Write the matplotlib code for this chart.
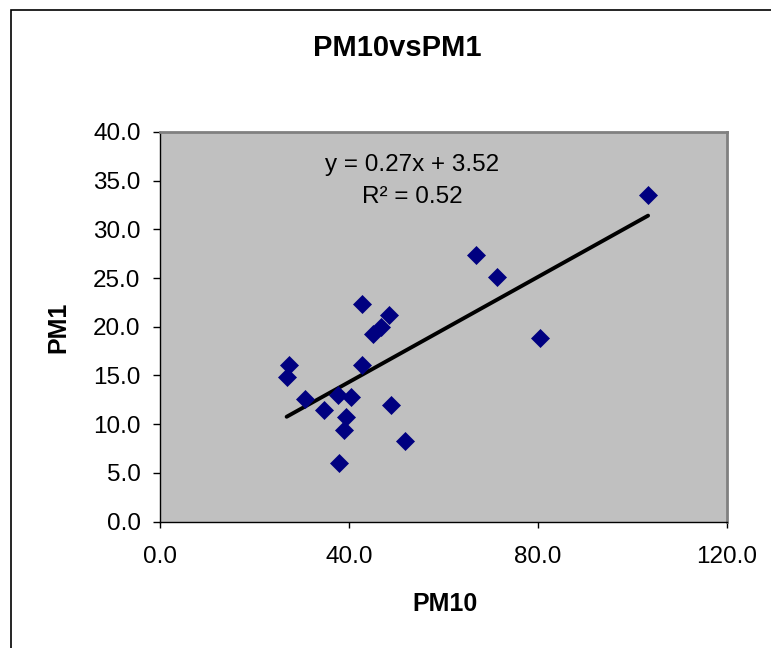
import matplotlib
matplotlib.use('Agg')
import matplotlib.pyplot as plt
from matplotlib.patches import Rectangle

###########                Data                 ###########
#---------------------------------------------------------#
pm10 = [42.8, 48.5, 46.8, 45.1, 27.3, 26.8, 42.8, 30.7, 37.7, 40.4,
        34.8, 39.3, 38.9, 48.9, 51.9, 37.9, 103.3, 66.9, 71.4, 80.4]
pm1 = [22.3, 21.2, 20.0, 19.3, 16.1, 14.8, 16.1, 12.6, 13.0, 12.75,
       11.4, 10.7, 9.4, 12.0, 8.3, 6.0, 33.5, 27.4, 25.1, 18.8]

slope = 0.27
intercept = 3.52
r2 = 0.52

x_ticks = [0, 40, 80, 120]
y_ticks = [0, 5, 10, 15, 20, 25, 30, 35, 40]

W, H = 771, 648
font = 'Liberation Sans'

###########               Figure                ###########
#---------------------------------------------------------#
fig = plt.figure(figsize=(W / 100, H / 100), dpi=100)
# outer chart border (right and bottom edges fall outside the picture)
fig.patches.append(Rectangle((11 / W, -0.2), 2, 1 - 9.5 / H + 0.2,
                             transform=fig.transFigure, fill=False,
                             lw=1.2, ec='black'))

ax = fig.add_axes([160 / W, (H - 521.5) / H, 567 / W, 389.5 / H])
ax.set_facecolor('#c0c0c0')

ax.plot(pm10, pm1, 'D', ms=9.5, color='#000080', mec='#000080', mew=0.5, zorder=3)

# linear trend line over the data range
x0, x1 = min(pm10), max(pm10)
ax.plot([x0, x1], [slope * x0 + intercept, slope * x1 + intercept],
        color='black', lw=2.8, solid_capstyle='round', zorder=2)

ax.set_xlim(0, 120)
ax.set_ylim(0, 40)
ax.set_xticks(x_ticks)
ax.set_xticklabels(['%.1f' % v for v in x_ticks])
ax.set_yticks(y_ticks)
ax.set_yticklabels(['%.1f' % v for v in y_ticks])

for s in ['left', 'bottom']:
    ax.spines[s].set_color('black')
    ax.spines[s].set_linewidth(1.0)
for s in ['top', 'right']:
    ax.spines[s].set_color('#808080')
    ax.spines[s].set_linewidth(2.0)

ax.tick_params(axis='y', direction='out', length=5, width=1, pad=9, labelsize=17.5)
ax.tick_params(axis='x', direction='out', length=4.5, width=1, pad=13, labelsize=17.5)
for lab in ax.get_xticklabels() + ax.get_yticklabels():
    lab.set_family(font)

###########               Texts                 ###########
#---------------------------------------------------------#
fig.text(397 / W, 1 - 48 / H, 'PM10vsPM1', ha='center', va='center',
         fontsize=21, fontweight='bold', family=font)
fig.text(444.7 / W, 1 - 604 / H, 'PM10', ha='center', va='center',
         fontsize=18, fontweight='bold', family=font)
fig.text(58 / W, 1 - 327 / H, 'PM1', ha='center', va='center', rotation=90,
         fontsize=18, fontweight='bold', family=font)

fig.text(412 / W, 1 - 165 / H, 'y = %.2fx + %.2f' % (slope, intercept),
         ha='center', va='center', fontsize=17.5, family=font)
fig.text(412 / W, 1 - 197 / H, 'R\u00b2 = %.2f' % r2,
         ha='center', va='center', fontsize=17.5, family=font)

fig.savefig('out.png', dpi=100)
